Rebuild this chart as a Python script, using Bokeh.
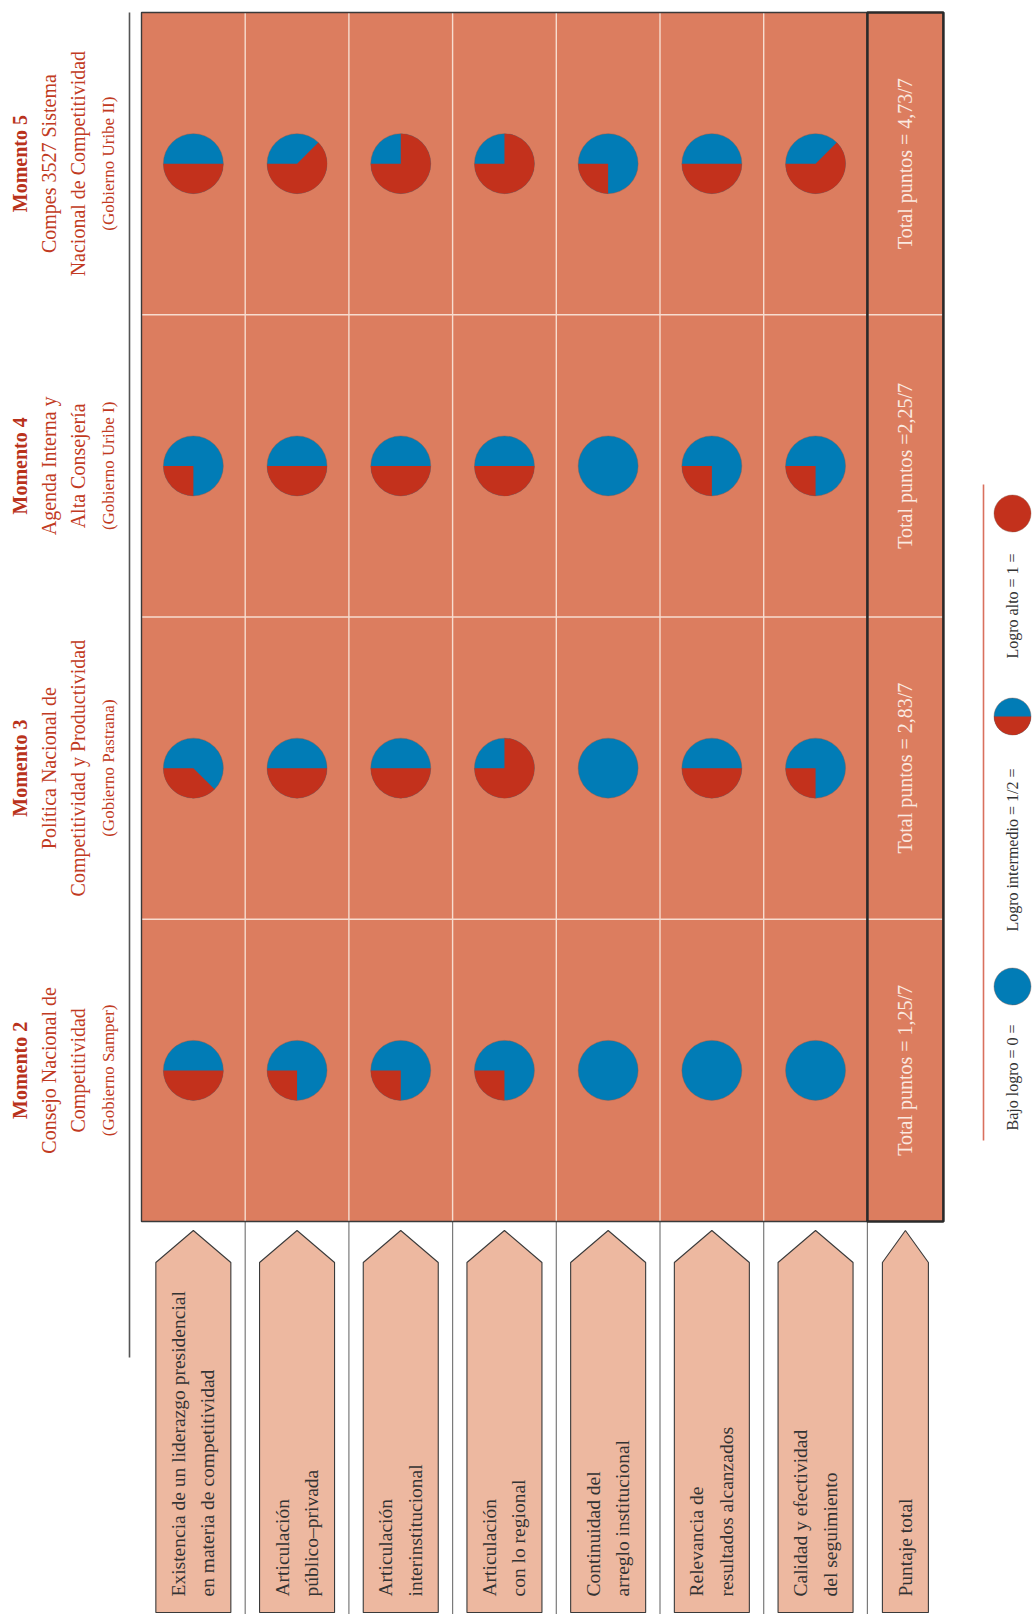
import math
from bokeh.plotting import figure
from bokeh.models import Range1d, ColumnDataSource
from bokeh.core.properties import value
from bokeh.embed import file_html
from bokeh.resources import INLINE

# ---------------------------------------------------------------- data
criteria = [
    ["Existencia de un liderazgo presidencial", "en materia de competitividad"],
    ["Articulación", "público–privada"],
    ["Articulación", "interinstitucional"],
    ["Articulación", "con lo regional"],
    ["Continuidad del", "arreglo institucional"],
    ["Relevancia de", "resultados alcanzados"],
    ["Calidad y efectividad", "del seguimiento"],
]
total_label = "Puntaje total"

moment_titles = ["Momento 2", "Momento 3", "Momento 4", "Momento 5"]
moment_lines = [
    ["Consejo Nacional de", "Competitividad"],
    ["Política Nacional de", "Competitividad y Productividad"],
    ["Agenda Interna y", "Alta Consejería"],
    ["Compes 3527 Sistema", "Nacional de Competitividad"],
]
governments = ["(Gobierno Samper)", "(Gobierno Pastrana)",
               "(Gobierno Uribe I)", "(Gobierno Uribe II)"]

# achievement per criterion (0 = bajo, 1/2 = intermedio, 1 = alto)
scores_m2 = [0.5, 0.25, 0.25, 0.25, 0.0, 0.0, 0.0]
scores_m3 = [0.375, 0.5, 0.5, 0.75, 0.0, 0.5, 0.25]
scores_m4 = [0.25, 0.5, 0.5, 0.5, 0.0, 0.25, 0.25]
scores_m5 = [0.5, 0.625, 0.75, 0.75, 0.25, 0.5, 0.625]
scores = [scores_m2, scores_m3, scores_m4, scores_m5]

totals = ["Total puntos = 1,25/7", "Total puntos = 2,83/7",
          "Total puntos =2,25/7", "Total puntos = 4,73/7"]

legend_labels = ["Bajo logro = 0 =", "Logro intermedio = 1/2 =", "Logro alto = 1 ="]
legend_values = [0.0, 0.5, 1.0]

# ---------------------------------------------------------------- layout
W, H = 1033, 1614
GRID_L, GRID_T, GRID_B = 141, 12, 1221
COL_W = 103.7
N_COL = len(criteria)
TOT_L = GRID_L + N_COL * COL_W
TOT_R = TOT_L + 76
N_ROW = len(moment_titles)
ROW_H = (GRID_B - GRID_T) / N_ROW
PIE_R = 30

SERIF = value("Liberation Serif")
CELL = "#dc7d5f"
RED = "#c3311c"
BLUE = "#017cb6"
BOX = "#edb8a0"
HEAD = "#c13a22"


def Y(py):
    """page row (from top) -> plot y"""
    return H - py


def col_center(i):
    if i < N_COL:
        return GRID_L + (i + 0.5) * COL_W
    return (TOT_L + TOT_R) / 2


def row_center(m):
    # Momento 5 sits on top, Momento 2 at the bottom
    k = N_ROW - 1 - m
    return GRID_T + (k + 0.5) * ROW_H


p = figure(width=W, height=H, x_range=Range1d(0, W), y_range=Range1d(0, H),
           output_backend="svg", toolbar_location=None, min_border=0)
p.axis.visible = False
p.grid.visible = False
p.outline_line_color = None
p.background_fill_color = "white"

# ---------------------------------------------------------------- cells
p.quad(left=[GRID_L], right=[TOT_R], top=[Y(GRID_T)], bottom=[Y(GRID_B)],
       fill_color=CELL, line_color=None)

# white separators inside the grid
vx = [GRID_L + i * COL_W for i in range(1, N_COL)]
p.segment(x0=vx, x1=vx, y0=[Y(GRID_T)] * len(vx), y1=[Y(GRID_B)] * len(vx),
          line_color="#f7dccf", line_width=1.4)
hy = [Y(GRID_T + k * ROW_H) for k in range(1, N_ROW)]
p.segment(x0=[GRID_L] * len(hy), x1=[TOT_R] * len(hy), y0=hy, y1=hy,
          line_color="#f7dccf", line_width=1.4)

# grey separators below the grid
gx = [GRID_L + i * COL_W for i in range(1, N_COL + 1)]
p.segment(x0=gx, x1=gx, y0=[Y(GRID_B)] * len(gx), y1=[0] * len(gx),
          line_color="#7a7a7a", line_width=1.2)

# outer frame
p.line(x=[TOT_L, GRID_L, GRID_L, TOT_L], y=[Y(GRID_T), Y(GRID_T), Y(GRID_B), Y(GRID_B)],
       line_color="#3a3a3a", line_width=1.4)
p.quad(left=[TOT_L], right=[TOT_R], top=[Y(GRID_T)], bottom=[Y(GRID_B)],
       fill_color=None, line_color="#2a2a2a", line_width=2.6)

# rule left of the grid
p.line(x=[GRID_L - 12, GRID_L - 12], y=[Y(GRID_T), Y(1357)],
       line_color="#555555", line_width=1.6)


# ---------------------------------------------------------------- pies
def draw_pies(xs, ys, fracs, r):
    blue = ColumnDataSource(dict(x=[x for x, f in zip(xs, fracs) if f < 1],
                                 y=[y for y, f in zip(ys, fracs) if f < 1]))
    p.circle(x="x", y="y", radius=r, source=blue, fill_color=BLUE,
             line_color="#8a5a4a", line_alpha=0.5, line_width=0.8)
    full = ColumnDataSource(dict(x=[x for x, f in zip(xs, fracs) if f >= 1],
                                 y=[y for y, f in zip(ys, fracs) if f >= 1]))
    p.circle(x="x", y="y", radius=r, source=full, fill_color=RED,
             line_color="#8a5a4a", line_alpha=0.5, line_width=0.8)
    part = [(x, y, f) for x, y, f in zip(xs, ys, fracs) if 0 < f < 1]
    src = ColumnDataSource(dict(x=[a for a, _, _ in part], y=[b for _, b, _ in part],
                                s=[math.pi for _ in part],
                                e=[math.pi + 2 * math.pi * f for _, _, f in part]))
    p.wedge(x="x", y="y", radius=r, start_angle="s", end_angle="e", source=src,
            fill_color=RED, line_color=None)


pxs, pys, pfs = [], [], []
for m, row in enumerate(scores):
    for i, f in enumerate(row):
        pxs.append(col_center(i))
        pys.append(Y(row_center(m)))
        pfs.append(f)
draw_pies(pxs, pys, pfs, PIE_R)

# totals inside the last column
p.text(x=[col_center(N_COL)] * N_ROW, y=[Y(row_center(m)) for m in range(N_ROW)],
       text=totals, angle=math.pi / 2, text_align="center", text_baseline="middle",
       text_font=SERIF, text_font_size="20px", text_color="#fbe9e0")

# ---------------------------------------------------------------- moment headers
head_x = [19, 48, 77, 108]
for m in range(N_ROW):
    yc = Y(row_center(m))
    p.text(x=[head_x[0]], y=[yc], text=[moment_titles[m]], angle=math.pi / 2,
           text_align="center", text_baseline="middle", text_font=SERIF,
           text_font_size="20px", text_font_style="bold", text_color="#b9321c")
    p.text(x=head_x[1:3], y=[yc, yc], text=moment_lines[m], angle=math.pi / 2,
           text_align="center", text_baseline="middle", text_font=SERIF,
           text_font_size="20px", text_color=HEAD)
    p.text(x=[head_x[3]], y=[yc], text=[governments[m]], angle=math.pi / 2,
           text_align="center", text_baseline="middle", text_font=SERIF,
           text_font_size="17px", text_color=HEAD)

# ---------------------------------------------------------------- criteria arrows
TIP, SHOULDER, BOTTOM = 1230, 1262, 1612
bx, by = [], []
for i in range(N_COL + 1):
    cx = col_center(i)
    hw = 37.5 if i < N_COL else 23
    bx.append([cx, cx + hw, cx + hw, cx - hw, cx - hw])
    by.append([Y(TIP), Y(SHOULDER), Y(BOTTOM), Y(BOTTOM), Y(SHOULDER)])
p.patches(xs=bx, ys=by, fill_color=BOX, line_color="#3a3a3a", line_width=1.1)

lx, ly, lt = [], [], []
for i, lines in enumerate(criteria):
    cx = col_center(i)
    for j, t in enumerate(lines):
        lx.append(cx - 15 + j * 29.5)
        ly.append(Y(1596))
        lt.append(t)
lx.append(col_center(N_COL))
ly.append(Y(1596))
lt.append(total_label)
p.text(x=lx, y=ly, text=lt, angle=math.pi / 2, text_align="left",
       text_baseline="middle", text_font=SERIF, text_font_size="19.5px",
       text_color="#333333")

# ---------------------------------------------------------------- legend
p.line(x=[983, 983], y=[Y(484), Y(1140)], line_color="#d9705e", line_width=1.6)
leg_circle_y = [986, 716, 513]
leg_text_y = [1130, 931, 658]
draw_pies([1012] * 3, [Y(v) for v in leg_circle_y], legend_values, 18.5)
p.text(x=[1012] * 3, y=[Y(v) for v in leg_text_y], text=legend_labels,
       angle=math.pi / 2, text_align="left", text_baseline="middle",
       text_font=SERIF, text_font_size="16px", text_color="#333333")

open("out.html", "w").write(file_html(p, INLINE))
